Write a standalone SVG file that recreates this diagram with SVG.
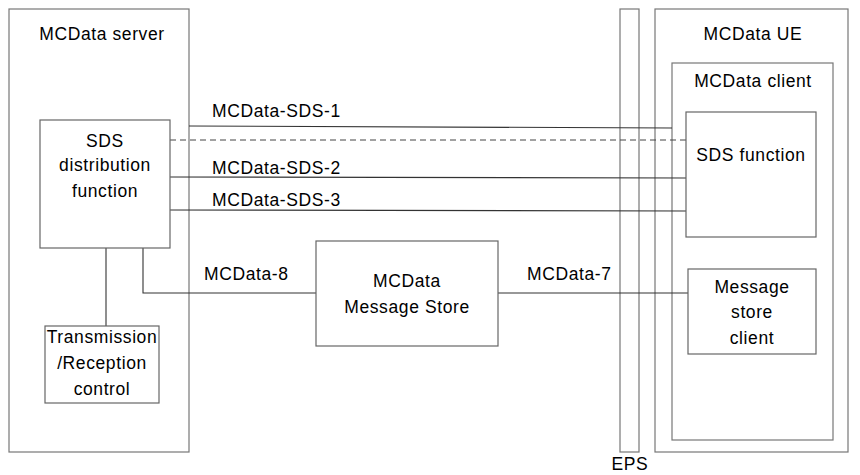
<svg xmlns="http://www.w3.org/2000/svg" width="860" height="475" viewBox="0 0 860 475">
<style>
.box{fill:#fff;stroke:#666;stroke-width:1.2}
.obox{fill:none;stroke:#777;stroke-width:1.2}
.ln{fill:none;stroke:#333;stroke-width:1.1}
.dash{fill:none;stroke:#444;stroke-width:1;stroke-dasharray:6 4}
text{font-family:"Liberation Sans",Arial,sans-serif;font-size:17.5px;letter-spacing:0.6px;fill:#000}
.c{text-anchor:middle}
</style>
<rect width="860" height="475" fill="#fff"/>
<g id="server"><rect class="obox" x="9" y="9" width="180" height="443"/><text class="c" x="102" y="40">MCData server</text></g>
<g id="eps"><rect class="obox" x="620" y="9" width="19" height="443"/><text class="c" x="630" y="470">EPS</text></g>
<g id="ue"><rect class="obox" x="655" y="9" width="193" height="443"/><text class="c" x="753" y="40">MCData UE</text></g>
<g id="client"><rect class="obox" x="672" y="63" width="161" height="377"/><text class="c" x="753" y="87">MCData client</text></g>
<g id="connectors">
<path class="ln" d="M189 126 L672 128"/>
<path class="dash" d="M170 140 H686"/>
<path class="ln" d="M170 177 L686 178"/>
<path class="ln" d="M170 210 L686 211"/>
<path class="ln" d="M143 248 V293 H316"/>
<path class="ln" d="M106 248 V326"/>
<path class="ln" d="M498 293 H688"/>
<text x="212" y="117">MCData-SDS-1</text>
<text x="212" y="174">MCData-SDS-2</text>
<text x="212" y="206">MCData-SDS-3</text>
<text x="204" y="280">MCData-8</text>
<text x="527" y="280">MCData-7</text>
</g>
<g id="sdsdist"><rect class="box" x="40" y="120" width="130" height="128"/><text class="c" x="105" y="147">SDS</text><text class="c" x="105" y="171">distribution</text><text class="c" x="105" y="197">function</text></g>
<g id="trc"><rect class="box" x="45" y="326" width="114" height="77"/><text class="c" x="102" y="343">Transmission</text><text class="c" x="102" y="369">/Reception</text><text class="c" x="102" y="395">control</text></g>
<g id="msgstore"><rect class="box" x="316" y="241" width="182" height="105"/><text class="c" x="407" y="287">MCData</text><text class="c" x="407" y="313">Message Store</text></g>
<g id="sdsfunc"><rect class="box" x="686" y="112" width="130" height="125"/><text class="c" x="751" y="161">SDS function</text></g>
<g id="msclient"><rect class="box" x="688" y="269" width="128" height="85"/><text class="c" x="752" y="293">Message</text><text class="c" x="752" y="318">store</text><text class="c" x="752" y="344">client</text></g>
</svg>
